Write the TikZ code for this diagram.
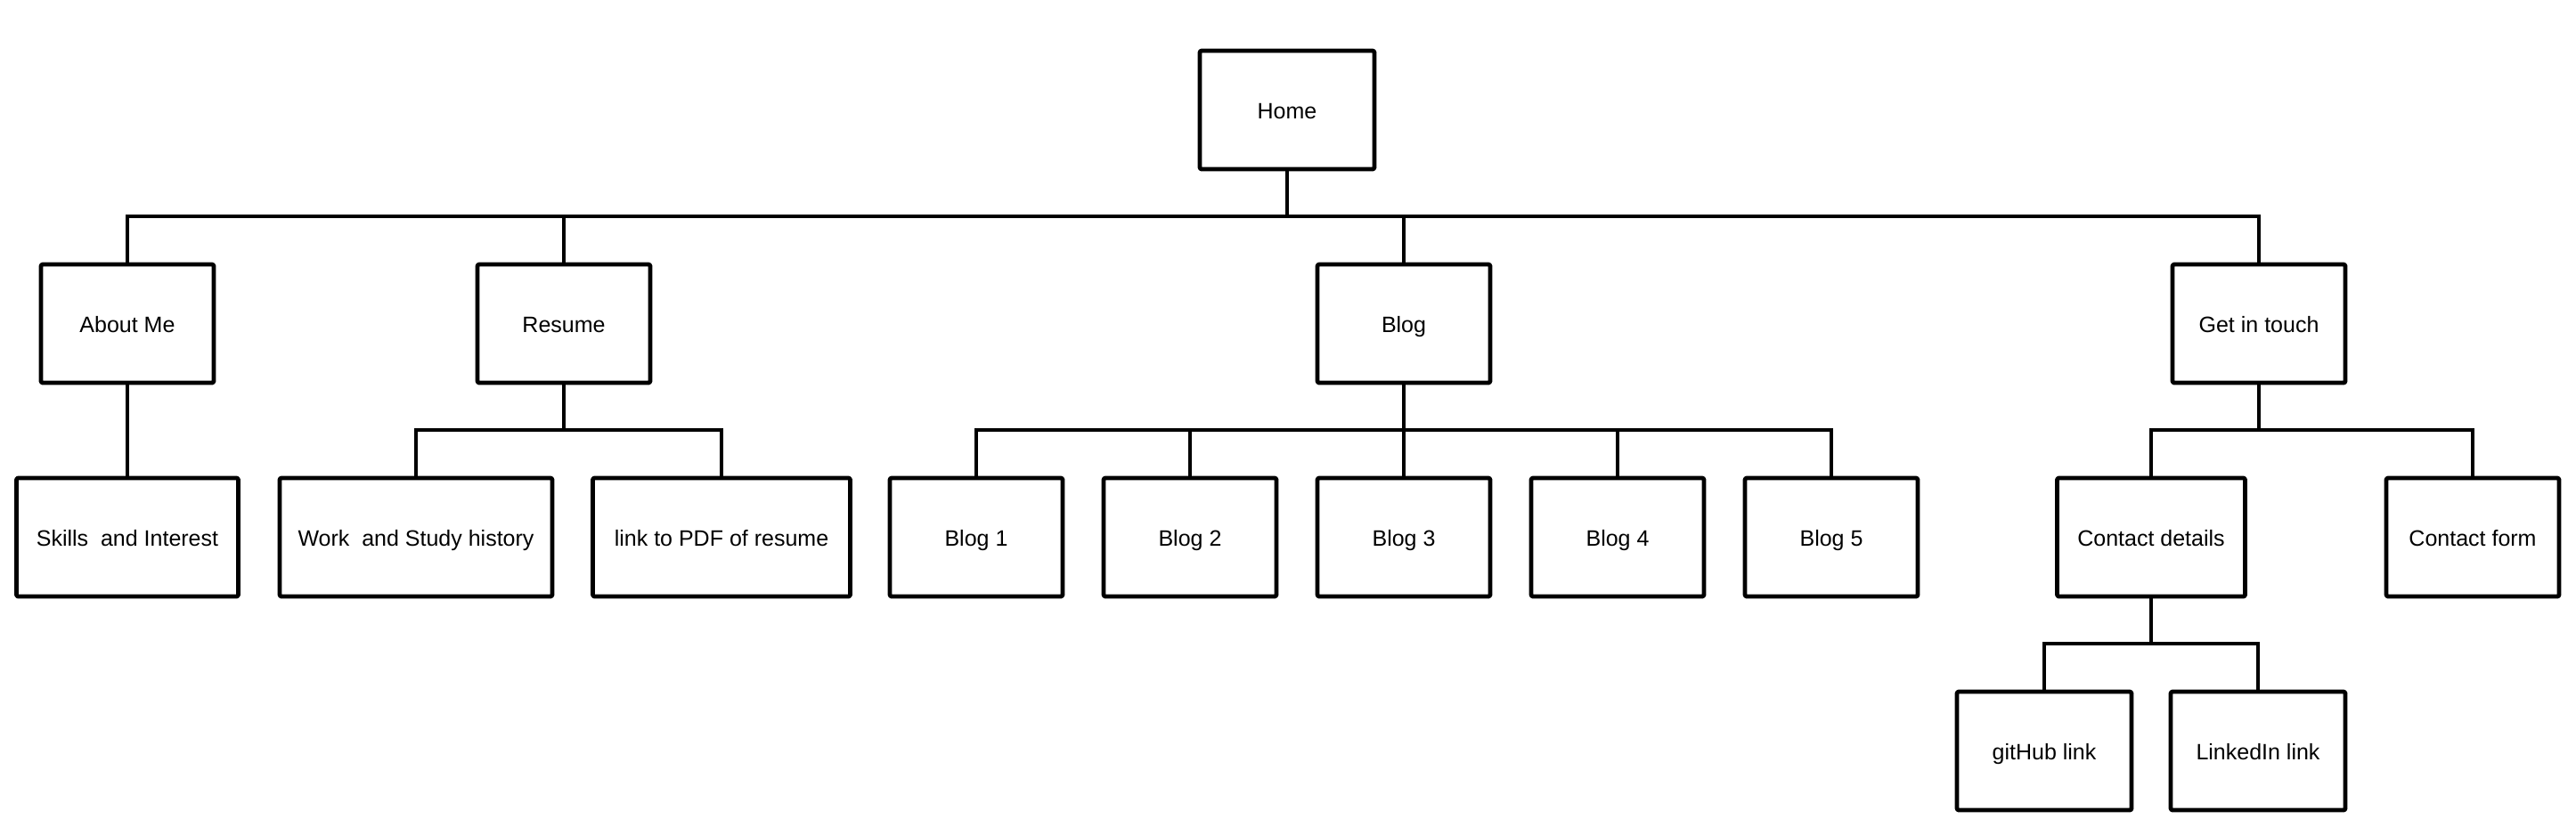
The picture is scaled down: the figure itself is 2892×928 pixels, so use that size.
\documentclass[tikz,border=0pt]{standalone}
\usepackage{fontspec}
\setmainfont{Liberation Sans}
\begin{document}
\begin{tikzpicture}[x=0.5pt,y=-0.5pt,
  box/.style={draw=black,line width=2.4pt,fill=white,line join=round,rounded corners=1pt,
    minimum height=66.5pt,inner sep=0pt,text height=12.7pt,text depth=2.6pt,
    font=\fontsize{12.5}{14}\selectfont},
  w194/.style={minimum width=97pt},
  link/.style={draw=black,line width=1.7pt}]
\useasboundingbox (0,0) rectangle (2892,928);
% level 1
\node[box,minimum width=98pt] (home) at (1445,123.5) {Home};
% level 2
\node[box,w194] (about)  at (143,363.5)  {About Me};
\node[box,w194] (resume) at (633,363.5)  {Resume};
\node[box,w194] (blog)   at (1576,363.5) {Blog};
\node[box,w194] (getin)  at (2536,363.5) {Get in touch};
% level 3
\node[box,minimum width=124.5pt] (skills) at (143,603.5) {Skills\ \ and Interest};
\node[box,minimum width=153pt]   (work)   at (467,603.5) {Work\ \ and Study history};
\node[box,minimum width=144.5pt] (pdf)    at (810,603.5) {link to PDF of resume};
\node[box,w194] (blogA) at (1096,603.5) {Blog 1};
\node[box,w194] (blogB) at (1336,603.5) {Blog 2};
\node[box,w194] (blogC) at (1576,603.5) {Blog 3};
\node[box,w194] (blogD) at (1816,603.5) {Blog 4};
\node[box,w194] (blogE) at (2056,603.5) {Blog 5};
\node[box,minimum width=105.5pt] (cdet)  at (2415,603.5) {Contact details};
\node[box,w194] (cform) at (2776,603.5) {Contact form};
% level 4
\node[box,minimum width=98pt] (github)   at (2295,843.5) {gitHub link};
\node[box,minimum width=98pt] (linkedin) at (2535,843.5) {LinkedIn link};
% bus coordinates
\coordinate (busA) at (1445,243);
\coordinate (busR) at (633,483);
\coordinate (busB) at (1576,483);
\coordinate (busG) at (2536,483);
\coordinate (busC) at (2415,723);
% connectors
\draw[link] (home.south) -- (busA);
\draw[link] (about.north) |- (busA) -| (getin.north);
\draw[link] (resume.north) -- (resume.north |- busA);
\draw[link] (blog.north) -- (blog.north |- busA);
\draw[link] (about.south) -- (skills.north);
\draw[link] (resume.south) -- (busR);
\draw[link] (work.north) |- (busR) -| (pdf.north);
\draw[link] (blog.south) -- (busB);
\draw[link] (blogA.north) |- (busB) -| (blogE.north);
\draw[link] (blogB.north) -- (blogB.north |- busB);
\draw[link] (blogC.north) -- (blogC.north |- busB);
\draw[link] (blogD.north) -- (blogD.north |- busB);
\draw[link] (getin.south) -- (busG);
\draw[link] (cdet.north) |- (busG) -| (cform.north);
\draw[link] (cdet.south) -- (busC);
\draw[link] (github.north) |- (busC) -| (linkedin.north);
\end{tikzpicture}
\end{document}
